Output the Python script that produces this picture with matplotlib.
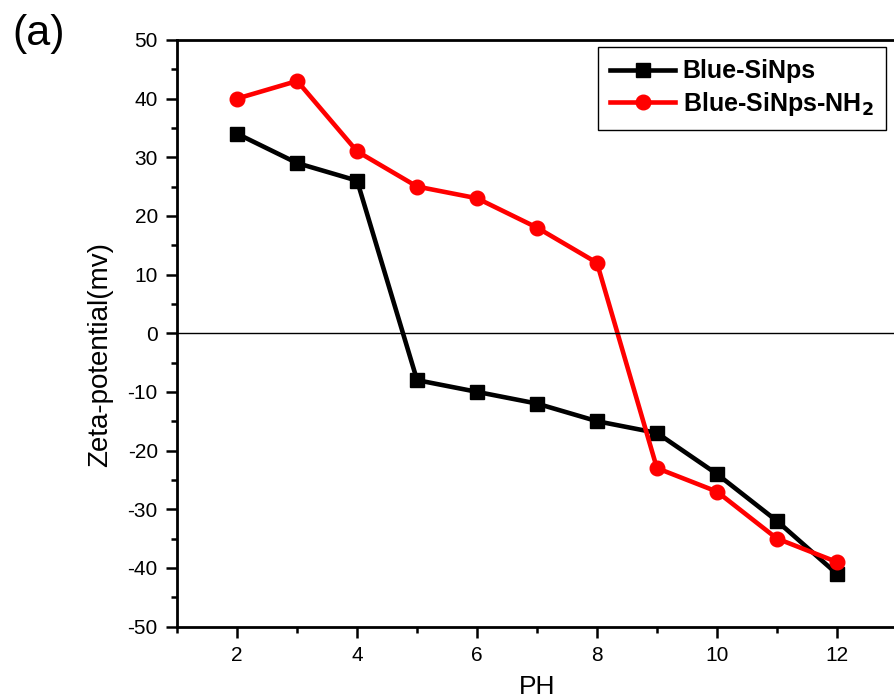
import numpy as np
import matplotlib.pyplot as plt
from matplotlib.ticker import MultipleLocator

plt.rcParams['font.family'] = ['Liberation Sans', 'DejaVu Sans']
plt.rcParams['axes.unicode_minus'] = False

ph = [2, 3, 4, 5, 6, 7, 8, 9, 10, 11, 12]
blue_sinps = [34, 29, 26, -8, -10, -12, -15, -17, -24, -32, -41]
blue_sinps_nh2 = [40, 43, 31, 25, 23, 18, 12, -23, -27, -35, -39]

fig = plt.figure(figsize=(8.95, 7), dpi=100)
ax = fig.add_axes([0.198, 0.105, 0.804, 0.838])

ax.plot(ph, blue_sinps, color='black', lw=3.3, marker='s', ms=10, label='Blue-SiNps')
ax.plot(ph, blue_sinps_nh2, color='red', lw=3.3, marker='o', ms=10.5, label='Blue-SiNps-NH$_\\mathbf{2}$')
ax.axhline(0, color='black', lw=1)

ax.set_xlim(1, 13)
ax.set_ylim(-50, 50)
ax.xaxis.set_major_locator(MultipleLocator(2))
ax.xaxis.set_minor_locator(MultipleLocator(1))
ax.yaxis.set_major_locator(MultipleLocator(10))
ax.yaxis.set_minor_locator(MultipleLocator(5))
ax.tick_params(which='major', direction='out', length=8, width=1.8, labelsize=15, pad=6)
ax.tick_params(which='minor', direction='out', length=4, width=1.8)
for s in ax.spines.values():
    s.set_linewidth(2)

ax.set_xlabel('PH', fontsize=19, labelpad=7)
ax.set_ylabel('Zeta-potential(mv)', fontsize=20)
ax.yaxis.set_label_coords(-0.089, 0.463)
fig.text(12 / 895, 1 - 45 / 700, '(a)', fontsize=31, va='baseline')

ax.legend(loc='upper right', bbox_to_anchor=(0.985, 0.988), fancybox=False, edgecolor='black',
          framealpha=1, handlelength=2.6, prop={'weight': 'bold', 'size': 18},
          borderpad=0.5, labelspacing=0.25, handletextpad=0.3, borderaxespad=0)

plt.savefig('out.png', dpi=100)
